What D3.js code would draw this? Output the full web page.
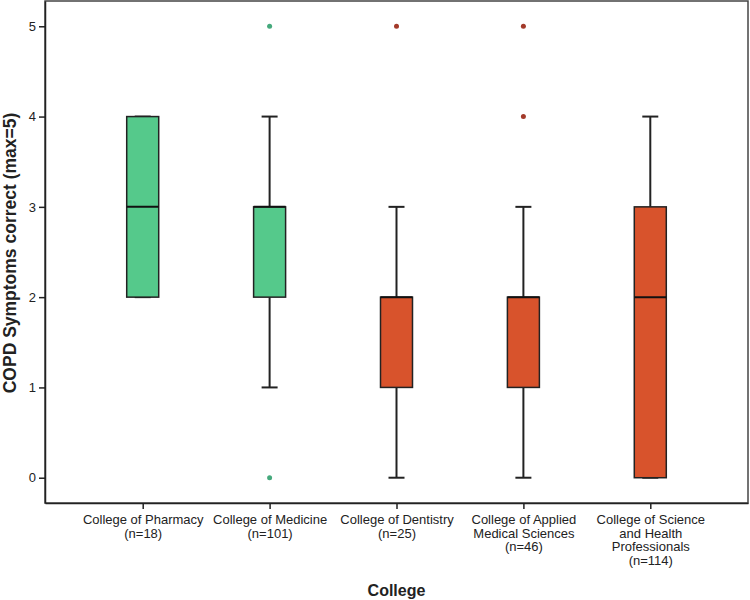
<!DOCTYPE html>
<html><head><meta charset="utf-8">
<script src="https://cdn.jsdelivr.net/npm/d3@7"></script>
<style>body{margin:0;background:#fff}svg{display:block;font-family:"Liberation Sans",Arial,sans-serif}</style>
</head><body><svg id="c" width="750" height="600"></svg>
<script>
const categories = [
  ["College of Pharmacy","(n=18)"],
  ["College of Medicine","(n=101)"],
  ["College of Dentistry","(n=25)"],
  ["College of Applied","Medical Sciences","(n=46)"],
  ["College of Science","and Health","Professionals","(n=114)"]
];
const whiskerLow  = [2, 1, 0, 0, 0];
const q1          = [2, 2, 1, 1, 0];
const median      = [3, 3, 2, 2, 2];
const q3          = [4, 3, 2, 2, 3];
const whiskerHigh = [4, 4, 3, 3, 4];
const outliers    = [[], [5, 0], [5], [5, 4], []];
const boxGroup    = ["green","green","red","red","red"];
const yTicks = [0,1,2,3,4,5];

const fills = {green:"#55c98b", red:"#d8532c"};
const dotFills = {green:"#45a97c", red:"#a33a2a"};

const svg = d3.select("#c");
const mLeft=45, mRight=748, mTop=1, mBottom=503;
const y = d3.scaleLinear().domain([-0.28,5.28]).range([mBottom, mTop]);
const x = d3.scalePoint().domain(d3.range(categories.length)).range([mLeft,mRight]).padding(0.77);

svg.append("rect").attr("x",mLeft).attr("y",mTop).attr("width",mRight-mLeft).attr("height",mBottom-mTop)
  .attr("fill","none").attr("stroke","#444").attr("stroke-width",1.5);

const ya = svg.append("g").attr("transform",`translate(${mLeft},0)`)
  .call(d3.axisLeft(y).tickValues(yTicks).tickSizeInner(6).tickSizeOuter(0).tickPadding(3).tickFormat(d3.format("d")));
ya.select(".domain").attr("stroke","#222").attr("stroke-width",1.5);
ya.selectAll(".tick line").attr("stroke","#222").attr("stroke-width",1.5);
ya.selectAll(".tick text").attr("font-size",13).attr("fill","#222").attr("font-family","Liberation Sans, Arial, sans-serif");

const xa = svg.append("g").attr("transform",`translate(0,${mBottom})`)
  .call(d3.axisBottom(x).tickSizeInner(6).tickSizeOuter(0).tickFormat(""));
xa.select(".domain").attr("stroke","#222").attr("stroke-width",1.5);
xa.selectAll(".tick line").attr("stroke","#222").attr("stroke-width",1.5);
xa.selectAll(".tick").each(function(d){
  const t = d3.select(this).append("text").attr("fill","#222").attr("font-size",13)
    .attr("text-anchor","middle").attr("font-family","Liberation Sans, Arial, sans-serif");
  categories[d].forEach((s,i)=>t.append("tspan").attr("x",0).attr("y",21+i*13.5).text(s));
});

const bw = 32, cw = 16;
const g = svg.append("g");
categories.forEach((c,i)=>{
  const cx = x(i);
  g.append("line").attr("x1",cx).attr("x2",cx).attr("y1",y(whiskerHigh[i])).attr("y2",y(q3[i])).attr("stroke","#222").attr("stroke-width",2);
  g.append("line").attr("x1",cx).attr("x2",cx).attr("y1",y(q1[i])).attr("y2",y(whiskerLow[i])).attr("stroke","#222").attr("stroke-width",2);
  g.append("line").attr("x1",cx-cw/2).attr("x2",cx+cw/2).attr("y1",y(whiskerHigh[i])).attr("y2",y(whiskerHigh[i])).attr("stroke","#222").attr("stroke-width",2);
  g.append("line").attr("x1",cx-cw/2).attr("x2",cx+cw/2).attr("y1",y(whiskerLow[i])).attr("y2",y(whiskerLow[i])).attr("stroke","#222").attr("stroke-width",2);
  g.append("rect").attr("x",cx-bw/2).attr("y",y(q3[i])).attr("width",bw).attr("height",Math.max(0,y(q1[i])-y(q3[i])))
    .attr("fill",fills[boxGroup[i]]).attr("stroke","#222").attr("stroke-width",1.5);
  g.append("line").attr("x1",cx-bw/2).attr("x2",cx+bw/2).attr("y1",y(median[i])).attr("y2",y(median[i])).attr("stroke","#111").attr("stroke-width",2);
  outliers[i].forEach(v=>{
    g.append("circle").attr("cx",cx).attr("cy",y(v)).attr("r",2.5).attr("fill",dotFills[boxGroup[i]]);
  });
});

svg.append("text").attr("x",(mLeft+mRight)/2).attr("y",596).attr("text-anchor","middle")
  .attr("font-size",16).attr("font-weight","bold").attr("fill","#222").text("College");
svg.append("text").attr("transform",`translate(16,253) rotate(-90)`).attr("text-anchor","middle")
  .attr("font-size",17.5).attr("font-weight","bold").attr("fill","#222").text("COPD Symptoms correct (max=5)");
</script></body></html>
